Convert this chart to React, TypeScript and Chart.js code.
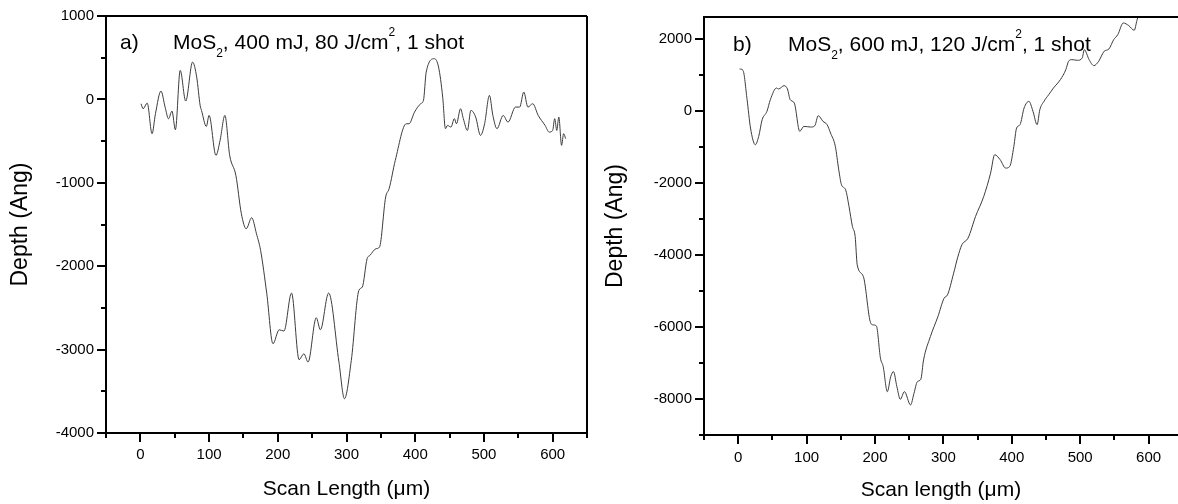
import React, { useEffect, useRef } from "react";
import { Chart, registerables } from "chart.js";

Chart.register(...registerables);

const FONT = "'Liberation Sans', Arial, Helvetica, sans-serif";

// ---------- Panel a: MoS2, 400 mJ ----------
const scanA = [1, 4, 10, 17, 22, 30, 36, 41, 46, 51, 58, 66, 76, 82, 87, 89, 96, 100, 110, 116, 123, 130, 139, 147, 154, 162, 169, 175, 184, 193, 202, 209, 220, 231, 238, 244, 256, 262, 274, 289, 297, 307, 318, 323, 330, 334, 343, 348, 357, 362, 371, 387, 391, 399, 408, 412, 416, 428, 434, 440, 444, 447, 452, 457, 460, 466, 470, 476, 481, 488, 495, 501, 508, 513, 519, 528, 535, 546, 552, 558, 564, 571, 579, 589, 595, 600, 603, 606, 609, 613, 616, 619];
const depthA = [-52, -112, -44, -411, -171, 100, -92, -232, -140, -364, 348, -20, 447, 267, -72, -132, -324, -192, -671, -492, -192, -671, -911, -1371, -1551, -1419, -1611, -1811, -2330, -2930, -2762, -2778, -2322, -3121, -3050, -3150, -2618, -2762, -2322, -3150, -3589, -3129, -2290, -2250, -1910, -1871, -1790, -1771, -1171, -1071, -731, -292, -292, -152, -52, -12, 327, 488, 387, 28, -351, -312, -332, -231, -292, -112, -231, -372, -132, -212, -432, -292, 48, -192, -351, -192, -272, -92, -92, 88, -92, -52, -192, -312, -392, -372, -231, -372, -212, -551, -411, -471];
const xTicksA = [0, 100, 200, 300, 400, 500, 600];
const xMinorA = [-50, 50, 150, 250, 350, 450, 550, 650];
const yTicksA = [-4000, -3000, -2000, -1000, 0, 1000];
const yMinorA = [-3500, -2500, -1500, -500, 500];
const labelA = "a)";
const titleA = [
  { t: "MoS" }, { t: "2", k: "sub" }, { t: ", 400 mJ, 80 J/cm" }, { t: "2", k: "sup" }, { t: ", 1 shot" },
];
const xTitleA = "Scan Length (\u03bcm)";
const yTitleA = "Depth (Ang)";

// ---------- Panel b: MoS2, 600 mJ ----------
const scanB = [2, 7, 13, 18, 25, 30, 35, 42, 47, 56, 59, 67, 72, 76, 82, 90, 96, 106, 112, 117, 124, 130, 135, 142, 147, 151, 157, 162, 167, 171, 174, 183, 193, 197, 202, 208, 212, 218, 223, 227, 232, 237, 243, 252, 257, 262, 267, 271, 281, 292, 301, 306, 315, 321, 327, 336, 347, 359, 369, 375, 383, 391, 397, 403, 407, 412, 418, 425, 431, 437, 441, 447, 454, 461, 471, 479, 483, 488, 496, 503, 506, 513, 520, 527, 535, 542, 549, 555, 563, 571, 579, 583, 586];
const depthB = [1158, 1119, 306, -481, -944, -713, -250, -19, 306, 630, 602, 694, 602, 306, 213, -574, -435, -454, -417, -139, -296, -389, -620, -991, -1639, -2056, -2194, -2657, -3213, -3491, -4278, -4602, -5852, -5944, -5972, -6870, -7102, -7797, -7380, -7241, -7658, -8009, -7797, -8167, -7843, -7519, -7453, -6917, -6269, -5713, -5204, -5111, -4509, -4065, -3722, -3537, -2935, -2380, -1731, -1222, -1361, -1593, -1546, -991, -481, -389, 75, 259, -19, -389, 28, 259, 444, 630, 861, 1139, 1370, 1417, 1398, 1463, 1694, 1417, 1250, 1370, 1648, 1713, 1972, 2111, 2435, 2361, 2231, 2509, 2700];
const xTicksB = [0, 100, 200, 300, 400, 500, 600];
const xMinorB = [-50, 50, 150, 250, 350, 450, 550];
const yTicksB = [-8000, -6000, -4000, -2000, 0, 2000];
const yMinorB = [-9000, -7000, -5000, -3000, -1000, 1000];
const labelB = "b)";
const titleB = [
  { t: "MoS" }, { t: "2", k: "sub" }, { t: ", 600 mJ, 120 J/cm" }, { t: "2", k: "sup" }, { t: ", 1 shot" },
];
const xTitleB = "Scan length (\u03bcm)";
const yTitleB = "Depth (Ang)";

type Seg = { t: string; k?: string };

interface Panel {
  xs: number[];
  ys: number[];
  xMin: number;
  xMax: number;
  yMin: number;
  yMax: number;
  xTicks: number[];
  xMinor: number[];
  yTicks: number[];
  yMinor: number[];
  label: string;
  title: Seg[];
  xTitle: string;
  yTitle: string;
  yAxisW: number;
  xAxisH: number;
  padTop: number;
  padRight: number;
  xTickPad: number;
  xTitlePad: number;
  yTitlePad: number;
  labelX: number;
  titleX: number;
  titleY: number;
  drawRight: boolean;
}

function drawRich(ctx: CanvasRenderingContext2D, segs: Seg[], x: number, y: number) {
  let cx = x;
  for (const s of segs) {
    const size = s.k ? 12 : 21;
    ctx.font = `${size}px ${FONT}`;
    const dy = s.k === "sub" ? 8 : s.k === "sup" ? -13 : 0;
    ctx.fillText(s.t, cx, y + dy);
    cx += ctx.measureText(s.t).width;
  }
}

function decorPlugin(p: Panel) {
  return {
    id: "decor",
    afterDraw(chart: any) {
      const { ctx, chartArea } = chart;
      const xs = chart.scales.x;
      const ys = chart.scales.y;
      ctx.save();
      ctx.strokeStyle = "#000";
      ctx.lineWidth = 2;
      ctx.beginPath();
      ctx.moveTo(chartArea.left, chartArea.top);
      ctx.lineTo(chartArea.right, chartArea.top);
      if (p.drawRight) {
        ctx.moveTo(chartArea.right, chartArea.top);
        ctx.lineTo(chartArea.right, chartArea.bottom);
      }
      for (const v of p.xMinor) {
        const px = Math.round(xs.getPixelForValue(v));
        ctx.moveTo(px, chartArea.bottom);
        ctx.lineTo(px, chartArea.bottom + 5);
      }
      for (const v of p.yMinor) {
        const py = Math.round(ys.getPixelForValue(v));
        ctx.moveTo(chartArea.left - 5, py);
        ctx.lineTo(chartArea.left, py);
      }
      ctx.stroke();
      ctx.fillStyle = "#000";
      ctx.textAlign = "left";
      ctx.textBaseline = "alphabetic";
      ctx.font = `21px ${FONT}`;
      ctx.fillText(p.label, p.labelX, p.titleY);
      drawRich(ctx, p.title, p.titleX, p.titleY);
      ctx.restore();
    },
  };
}

function makeConfig(p: Panel): any {
  const zeroPad = (s: any) => {
    s.paddingLeft = 0;
    s.paddingRight = 0;
    s.paddingTop = 0;
    s.paddingBottom = 0;
  };
  return {
    type: "line",
    data: {
      datasets: [
        {
          data: p.xs.map((x, i) => ({ x, y: p.ys[i] })),
          borderColor: "#3c3c3c",
          borderWidth: 1,
          pointRadius: 0,
          cubicInterpolationMode: "monotone",
          fill: false,
        },
      ],
    },
    options: {
      responsive: false,
      animation: false,
      events: [],
      layout: { padding: { left: 0, top: p.padTop, right: p.padRight, bottom: 0 } },
      plugins: {
        legend: { display: false },
        tooltip: { enabled: false },
        title: { display: false },
      },
      scales: {
        x: {
          type: "linear",
          position: "bottom",
          min: p.xMin,
          max: p.xMax,
          afterBuildTicks: (s: any) => {
            s.ticks = p.xTicks.map((v) => ({ value: v }));
          },
          afterFit: (s: any) => {
            s.height = p.xAxisH;
            zeroPad(s);
          },
          ticks: {
            font: { family: FONT, size: 15 },
            color: "#000",
            padding: p.xTickPad,
            maxRotation: 0,
            autoSkip: false,
            callback: (v: any) => String(v),
          },
          grid: { drawOnChartArea: false, drawTicks: true, tickLength: 9, color: "#000", lineWidth: 2 },
          border: { display: true, color: "#000", width: 2 },
          title: {
            display: true,
            text: p.xTitle,
            color: "#000",
            font: { family: FONT, size: 21 },
            padding: { top: 0, bottom: p.xTitlePad },
          },
        },
        y: {
          type: "linear",
          position: "left",
          min: p.yMin,
          max: p.yMax,
          afterBuildTicks: (s: any) => {
            s.ticks = p.yTicks.map((v) => ({ value: v }));
          },
          afterFit: (s: any) => {
            s.width = p.yAxisW;
            zeroPad(s);
          },
          ticks: {
            font: { family: FONT, size: 15 },
            color: "#000",
            padding: 3,
            autoSkip: false,
            callback: (v: any) => String(v),
          },
          grid: { drawOnChartArea: false, drawTicks: true, tickLength: 9, color: "#000", lineWidth: 2 },
          border: { display: true, color: "#000", width: 2 },
          title: {
            display: true,
            text: p.yTitle,
            color: "#000",
            font: { family: FONT, size: 23 },
            padding: { top: p.yTitlePad, bottom: 0 },
          },
        },
      },
    },
    plugins: [decorPlugin(p)],
  };
}

const panelA: Panel = {
  xs: scanA,
  ys: depthA,
  xMin: -50,
  xMax: 650,
  yMin: -4000,
  yMax: 1000,
  xTicks: xTicksA,
  xMinor: xMinorA,
  yTicks: yTicksA,
  yMinor: yMinorA,
  label: labelA,
  title: titleA,
  xTitle: xTitleA,
  yTitle: yTitleA,
  yAxisW: 106,
  xAxisH: 71,
  padTop: 16,
  padRight: 13,
  xTickPad: 4,
  xTitlePad: 2,
  yTitlePad: 7,
  labelX: 120,
  titleX: 173,
  titleY: 49,
  drawRight: true,
};

const panelB: Panel = {
  xs: scanB,
  ys: depthB,
  xMin: -50,
  xMax: 643,
  yMin: -9000,
  yMax: 2600,
  xTicks: xTicksB,
  xMinor: xMinorB,
  yTicks: yTicksB,
  yMinor: yMinorB,
  label: labelB,
  title: titleB,
  xTitle: xTitleB,
  yTitle: yTitleB,
  yAxisW: 104,
  xAxisH: 69,
  padTop: 17,
  padRight: 0,
  xTickPad: 5,
  xTitlePad: 1,
  yTitlePad: 2,
  labelX: 133,
  titleX: 188,
  titleY: 51,
  drawRight: false,
};

export default function App() {
  const refA = useRef<HTMLCanvasElement | null>(null);
  const refB = useRef<HTMLCanvasElement | null>(null);

  useEffect(() => {
    Chart.defaults.font.family = FONT;
    const charts: Chart[] = [];
    if (refA.current) charts.push(new Chart(refA.current, makeConfig(panelA)));
    if (refB.current) charts.push(new Chart(refB.current, makeConfig(panelB)));
    return () => {
      charts.forEach((c) => c.destroy());
    };
  }, []);

  return (
    <div style={{ position: "fixed", left: 0, top: 0, width: 1178, height: 504, background: "#fff", overflow: "hidden" }}>
      <canvas ref={refA} width={600} height={504} style={{ position: "absolute", left: 0, top: 0, width: 600, height: 504 }} />
      <canvas ref={refB} width={578} height={504} style={{ position: "absolute", left: 600, top: 0, width: 578, height: 504 }} />
    </div>
  );
}
